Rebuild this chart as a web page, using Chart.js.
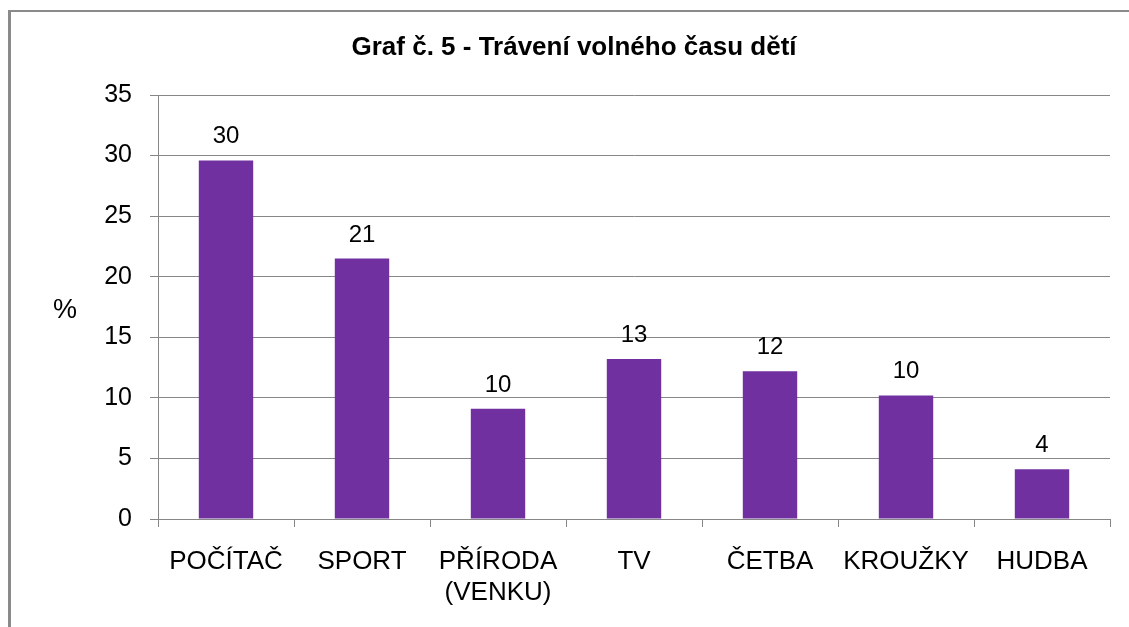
<!DOCTYPE html>
<html>
<head>
<meta charset="utf-8">
<script src="https://cdn.jsdelivr.net/npm/chart.js@4/dist/chart.umd.min.js"></script>
<style>
  html, body { margin: 0; padding: 0; background: #fff; overflow: hidden; }
  #wrap { position: relative; width: 1129px; height: 627px; }
  #frame {
    position: absolute; left: 8px; top: 10px; width: 1300px; height: 800px;
    border-left: 3px solid #8a8a8a; border-top: 2px solid #8a8a8a;
  }
  canvas { position: absolute; left: 0; top: 0; }
</style>
</head>
<body>
<div id="wrap">
  <div id="frame"></div>
  <canvas id="chart" width="1129" height="627"></canvas>
</div>
<script>
// Data
const categories = ['POČÍTAČ', 'SPORT', ['PŘÍRODA', '(VENKU)'], 'TV', 'ČETBA', 'KROUŽKY', 'HUDBA'];
const values = [29.6, 21.5, 9.1, 13.2, 12.2, 10.2, 4.1];
const valueLabels = ['30', '21', '10', '13', '12', '10', '4'];
const yTicks = [0, 5, 10, 15, 20, 25, 30, 35];

const titleText = 'Graf č. 5 - Trávení volného času dětí';
const axisTitle = '%';
const fontFamily = '"Liberation Sans", Arial, sans-serif';
const gridColor = '#878787';

// Titles and value labels drawn by hand
const textPlugin = {
  id: 'textPlugin',
  afterDatasetsDraw(chart) {
    const ctx = chart.ctx;
    ctx.save();
    ctx.fillStyle = '#000';

    // value labels above the bars
    ctx.font = '24px ' + fontFamily;
    ctx.textAlign = 'center';
    ctx.textBaseline = 'alphabetic';
    chart.getDatasetMeta(0).data.forEach((bar, i) => {
      ctx.fillText(valueLabels[i], bar.x, bar.y - 17);
    });

    // chart title
    ctx.font = 'bold 26px ' + fontFamily;
    ctx.textBaseline = 'middle';
    ctx.fillText(titleText, 574, 48);

    // y axis title (horizontal)
    ctx.font = '27px ' + fontFamily;
    ctx.fillText(axisTitle, 65, 311);
    ctx.restore();
  }
};

new Chart(document.getElementById('chart'), {
  type: 'bar',
  data: {
    labels: categories,
    datasets: [{
      data: values,
      backgroundColor: '#7030A0',
      categoryPercentage: 1,
      barPercentage: 0.4
    }]
  },
  options: {
    responsive: false,
    animation: false,
    layout: { padding: { left: 0, top: 95, right: 19, bottom: 0 } },
    plugins: {
      legend: { display: false },
      title: { display: false },
      tooltip: { enabled: false }
    },
    scales: {
      x: {
        afterFit(scale) { scale.height = 108; },
        border: { color: gridColor, width: 1 },
        grid: {
          offset: true,
          drawOnChartArea: false,
          drawTicks: true,
          tickLength: 8,
          color: gridColor
        },
        ticks: {
          color: '#000',
          padding: 19,
          maxRotation: 0,
          autoSkip: false,
          font: { family: fontFamily, size: 26, lineHeight: 1.2 }
        }
      },
      y: {
        min: 0,
        max: 35,
        afterFit(scale) { scale.width = 158; },
        afterBuildTicks(scale) { scale.ticks = yTicks.map(v => ({ value: v })); },
        border: { color: gridColor, width: 1 },
        grid: {
          color: gridColor,
          tickLength: 8
        },
        ticks: {
          color: '#000',
          padding: 18,
          font: { family: fontFamily, size: 25 }
        }
      }
    }
  },
  plugins: [textPlugin]
});
</script>
</body>
</html>
